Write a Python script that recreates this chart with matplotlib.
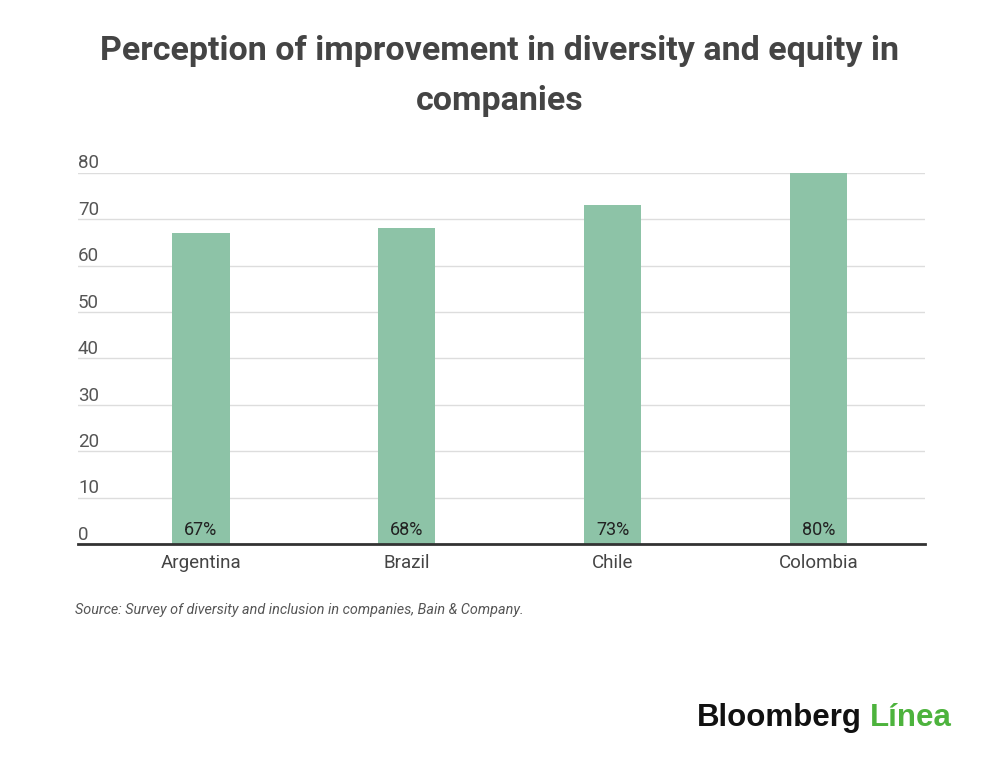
import matplotlib
matplotlib.use('Agg')
import matplotlib.pyplot as plt
import matplotlib.transforms as mtransforms

# ── Data ──
countries = ['Argentina', 'Brazil', 'Chile', 'Colombia']
values = [67, 68, 73, 80]
yticks = [0, 10, 20, 30, 40, 50, 60, 70, 80]

bar_color = '#8dc3a7'
text_dark = '#444444'

fig = plt.figure(figsize=(10, 7.61), dpi=100)
fig.patch.set_facecolor('white')
ax = fig.add_axes([0.078, 0.285, 0.847, 0.488])

x = range(len(countries))
ax.bar(x, values, width=0.277, color=bar_color, zorder=2)

# value labels at the foot of each bar
for xi, v in zip(x, values):
    ax.text(xi, 1.0, f'{v}%', ha='center', va='bottom', fontsize=13,
            family='Roboto', color='#222222', zorder=3)

ax.set_xlim(-0.597, 3.515)
ax.set_ylim(0, 80)
ax.set_xticks(list(x))
ax.set_xticklabels(countries, fontsize=13.5, family='Roboto', color=text_dark)
ax.tick_params(axis='x', length=0, pad=7)

# gridlines + left-aligned tick labels sitting above them
ax.set_yticks(yticks)
ax.set_yticklabels([])
ax.tick_params(axis='y', length=0)
ax.grid(axis='y', color='#dddddd', linewidth=1, zorder=0)
trans = mtransforms.blended_transform_factory(ax.transAxes, ax.transData)
for t in yticks:
    ax.text(0.0, t + 2.0, str(t), transform=trans, ha='left', va='center',
            fontsize=13.5, family='Roboto', color='#555555')

for side in ['top', 'right', 'left']:
    ax.spines[side].set_visible(False)
ax.spines['bottom'].set_color('#333333')
ax.spines['bottom'].set_linewidth(2)
ax.spines['bottom'].set_zorder(4)

# ── Title ──
fig.text(0.5, 0.900, 'Perception of improvement in diversity and equity in\ncompanies',
         ha='center', va='center', fontsize=24.5, fontweight='bold',
         family='Roboto', color=text_dark, linespacing=1.75)

# ── Source ──
fig.text(0.075, 0.198, 'Source: Survey of diversity and inclusion in companies, Bain & Company.',
         ha='left', va='center', fontsize=10.4, style='italic',
         family='Roboto', color='#555555')

# ── Logo ──
logo1 = fig.text(0.697, 0.056, 'Bloomberg', ha='left', va='center', fontsize=22.5,
                 fontweight='bold', family='Liberation Sans', color='#111111')
fig.canvas.draw()
bb = logo1.get_window_extent().transformed(fig.transFigure.inverted())
fig.text(bb.x1 + 0.008, 0.056, 'Línea', ha='left', va='center', fontsize=22.5,
         fontweight='bold', family='Liberation Sans', color='#4db33d')

plt.savefig('out.png', dpi=100, facecolor='white')
plt.close()
